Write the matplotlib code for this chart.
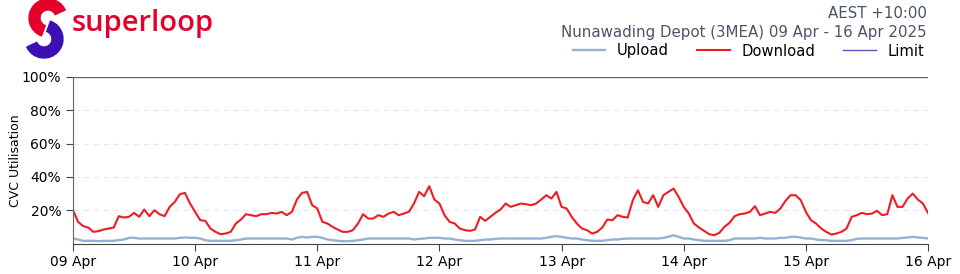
import matplotlib
matplotlib.use("Agg")
import matplotlib.pyplot as plt
from matplotlib.patches import Wedge
import pandas as pd

# hourly CVC utilisation (%), 09 Apr 00:00 .. 16 Apr 00:00
download_days = [
    [20, 13, 10.4, 9.6, 7, 7.4, 8.4, 9, 9.6, 16.4, 15.6, 16, 18.4, 16, 20.4, 16.4, 20, 17.6, 16.4, 22, 25, 29.6, 30.4, 24],
    [19, 14, 13.6, 9, 7, 5.6, 6, 7, 12, 14.4, 17.6, 17, 16.4, 17.6, 17.6, 18.4, 18, 19, 17, 19, 26.4, 30.4, 31, 23],
    [21, 13, 12, 10, 8.4, 7, 7, 8, 12, 17.6, 15, 15, 17, 16, 18, 19, 17, 18, 19, 24, 31, 28.4, 34.4, 26.4],
    [24, 17, 13, 12, 9, 8, 7.6, 8.4, 16, 13.6, 16, 18.4, 20.4, 24, 22, 23, 24, 23.6, 23, 24, 26.4, 29, 27, 31],
    [22, 21, 16, 12, 9, 8, 6, 7, 9.6, 14.4, 14, 17, 16, 15.6, 26, 32, 25, 24, 29, 22, 29, 31, 33, 28],
    [22, 18, 12, 9.6, 7.6, 5.6, 5, 6.4, 10, 12.4, 16.4, 17.6, 18, 19, 22.4, 17, 18, 19, 18.4, 21, 25.6, 29, 29, 26],
    [19, 14, 12, 9, 7, 5.4, 6, 7, 9, 16, 17, 18.4, 17.6, 18, 19.6, 17, 17.6, 29, 22, 22, 27, 30, 26.4, 24],
]
download_end = 18.4

upload_days = [
    [3, 2.4, 1.6, 1.6, 1.6, 1.4, 1.6, 1.6, 1.6, 2, 2.4, 3.4, 3.4, 3, 3, 3, 3, 3, 3, 3, 3, 3.4, 3.6, 3.4],
    [3.4, 3, 2, 1.6, 1.6, 1.6, 1.6, 1.6, 2, 2.4, 3, 3, 3, 3, 3, 3, 3, 3, 3, 2.4, 3.4, 4, 3.6, 4],
    [4, 3.4, 2.4, 2, 1.6, 1.4, 1.4, 1.6, 2, 2.4, 3, 3, 3, 3, 3, 3, 3, 3, 3, 2.4, 2.8, 3, 3.4, 3.4],
    [3.4, 3, 3, 2.4, 2, 1.6, 1.6, 1.6, 2, 2.4, 2.4, 2.8, 3, 3, 3, 3, 3, 3, 3, 3, 3, 3.4, 4, 4.4],
    [4, 3.4, 3, 3, 2.4, 2, 1.6, 1.6, 1.6, 2, 2.4, 2.4, 2.8, 3, 3, 3, 3, 3, 3, 3, 3.4, 4, 5, 4],
    [3, 3, 2.4, 2, 1.6, 1.6, 1.6, 1.6, 1.6, 2, 3, 3, 3, 3, 3, 3.4, 3, 3, 3, 3.4, 3.4, 4, 4, 3.6],
    [3, 3, 2.4, 2, 2, 1.6, 1.6, 1.6, 1.6, 2, 2.8, 3, 3, 3, 3, 3, 3, 3, 3, 3.4, 3.6, 4, 3.6, 3.4],
]
upload_end = 3

limit_value = 100
day_labels = ["09 Apr", "10 Apr", "11 Apr", "12 Apr", "13 Apr", "14 Apr", "15 Apr", "16 Apr"]
y_ticks = [20, 40, 60, 80, 100]

download = [v for d in download_days for v in d] + [download_end]
upload = [v for d in upload_days for v in d] + [upload_end]
times = pd.date_range("2025-04-09 00:00", periods=len(download), freq="h")

fig = plt.figure(figsize=(9.6, 2.74), dpi=100)

# logo drawn in pixel space
lax = fig.add_axes([0, 0, 1, 1], zorder=0)
lax.set_xlim(0, 960)
lax.set_ylim(0, 274)
lax.axis("off")
lax.add_patch(Wedge((48, 256), 19, 25, 250, width=11, color="#e4002b"))
lax.add_patch(Wedge((44, 235), 19, -155, 70, width=11, color="#3d0fb4"))
lax.text(72, 251, "superloop", color="#e4002b", fontsize=21, fontweight="semibold",
         family="Open Sans", va="center", ha="left")

ax = fig.add_axes([73 / 960, 1 - 243.5 / 274, 855 / 960, (243.5 - 77) / 274], zorder=1)
ax.patch.set_alpha(0)

ax.plot(times, upload, color="#93b2d3", lw=1.7, label="Upload")
ax.plot(times, download, color="#ee1c25", lw=1.5, label="Download")
ax.plot([times[0], times[-1]], [limit_value, limit_value], color="#5b5bbf", lw=1.0, label="Limit")

ax.set_xlim(times[0], times[-1])
ax.set_ylim(0, 100)
ax.set_yticks(y_ticks)
ax.set_yticklabels([f"{t}%" for t in y_ticks])
ax.set_xticks(pd.date_range("2025-04-09", periods=len(day_labels), freq="D"))
ax.set_xticklabels(day_labels)
ax.tick_params(labelsize=10, length=5, color="#444444")
ax.set_ylabel("CVC Utilisation", fontsize=9, labelpad=0)

for y in y_ticks[:-1]:
    ax.axhline(y, color="#e4e8ee", lw=0.8, ls=(0, (5, 4)), zorder=0)

ax.spines["top"].set_visible(False)
ax.spines["right"].set_visible(False)
ax.spines["left"].set_color("#666666")
ax.spines["bottom"].set_color("#444444")

fig.text(927 / 960, 1 - 14 / 274, "AEST +10:00", ha="right", va="center", fontsize=10.8, color="#4a5568")
fig.text(927 / 960, 1 - 32 / 274, "Nunawading Depot (3MEA) 09 Apr - 16 Apr 2025", ha="right", va="center",
         fontsize=10.8, color="#4a5568")

fig.legend(loc="center right", bbox_to_anchor=(930 / 960, 1 - 51 / 274), ncol=3, frameon=False,
           fontsize=10.6, handlelength=2.2, handletextpad=0.8, columnspacing=1.9, borderaxespad=0)

fig.savefig("out.png", dpi=100)
